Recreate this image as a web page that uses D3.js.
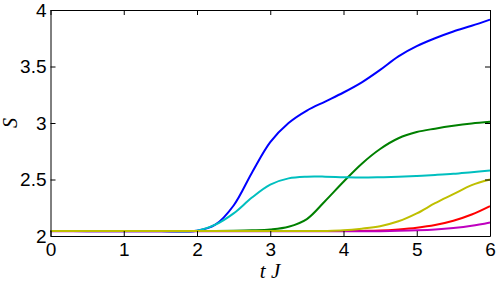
<!DOCTYPE html>
<html>
<head>
<meta charset="utf-8">
<script src="https://cdn.jsdelivr.net/npm/d3@7"></script>
<style>
  body { margin: 0; background: #fff; }
  .tick text { font-family: "Liberation Sans", Arial, sans-serif; font-size: 19px; fill: #000; }
  .domain, .tick line { stroke: #000; }
  .axis-title { font-family: "Liberation Serif", serif; font-style: italic; font-size: 21px; fill: #000; }
</style>
</head>
<body>
<div id="chart"></div>
<script>
/* CONSTANTS AND GLOBALS */
const width = 502,
  height = 288,
  margin = { top: 10, bottom: 52, left: 50.5, right: 12 };

// data
const time = [0, 0.5, 1, 1.5, 2, 2.25, 2.5, 2.75, 3, 3.25, 3.5, 3.75, 4, 4.25, 4.5, 4.75, 5, 5.25, 5.5, 5.75, 6];
const sBlue    = [2.044, 2.043, 2.042, 2.042, 2.047, 2.10, 2.27, 2.56, 2.83, 3.0, 3.11, 3.19, 3.27, 3.36, 3.47, 3.59, 3.68, 3.75, 3.81, 3.86, 3.915];
const sGreen   = [2.044, 2.044, 2.044, 2.044, 2.044, 2.044, 2.046, 2.05, 2.058, 2.082, 2.15, 2.31, 2.48, 2.64, 2.77, 2.865, 2.92, 2.95, 2.975, 2.995, 3.01];
const sRed     = [2.044, 2.044, 2.044, 2.044, 2.044, 2.044, 2.044, 2.044, 2.044, 2.044, 2.044, 2.044, 2.044, 2.045, 2.048, 2.058, 2.073, 2.097, 2.135, 2.19, 2.265];
const sCyan    = [2.044, 2.044, 2.044, 2.044, 2.047, 2.10, 2.20, 2.34, 2.455, 2.51, 2.525, 2.525, 2.52, 2.517, 2.52, 2.525, 2.532, 2.54, 2.55, 2.565, 2.58];
const sMagenta = [2.043, 2.043, 2.043, 2.043, 2.043, 2.043, 2.043, 2.043, 2.043, 2.043, 2.043, 2.043, 2.043, 2.043, 2.043, 2.046, 2.05, 2.057, 2.07, 2.09, 2.12];
const sYellow  = [2.044, 2.044, 2.044, 2.044, 2.044, 2.044, 2.044, 2.044, 2.044, 2.044, 2.044, 2.045, 2.05, 2.065, 2.087, 2.13, 2.20, 2.29, 2.37, 2.45, 2.50];

const xTicks = [0, 1, 2, 3, 4, 5, 6];
const yTicks = [2, 2.5, 3, 3.5, 4];

const series = [
  { color: "#0000ff", values: sBlue },
  { color: "#008000", values: sGreen },
  { color: "#ff0000", values: sRed },
  { color: "#00bfbf", values: sCyan },
  { color: "#bf00bf", values: sMagenta },
  { color: "#bfbf00", values: sYellow }
];

//SCALES
const xScale = d3.scaleLinear()
  .domain([0, 6])
  .range([margin.left, width - margin.right]);

const yScale = d3.scaleLinear()
  .domain([2, 4])
  .range([height - margin.bottom, margin.top]);

//SVG
const svg = d3.select("#chart")
  .append("svg")
  .attr("width", width)
  .attr("height", height);

// LINES
const line = d3.line()
  .x((d, i) => xScale(time[i]))
  .y(d => yScale(d))
  .curve(d3.curveCatmullRom.alpha(0.5));

svg.selectAll("path.series")
  .data(series)
  .join("path")
  .attr("class", "series")
  .attr("fill", "none")
  .attr("stroke", d => d.color)
  .attr("stroke-width", 2)
  .attr("d", d => line(d.values));

// AXES (matlab style box, ticks pointing in)
const fmt = d3.format("");
svg.append("g")
  .attr("transform", `translate(0, ${height - margin.bottom})`)
  .call(d3.axisBottom(xScale).tickValues(xTicks).tickFormat(fmt).tickSize(-5).tickSizeOuter(0).tickPadding(7));

svg.append("g")
  .attr("transform", `translate(0, ${margin.top})`)
  .call(d3.axisTop(xScale).tickValues(xTicks).tickFormat("").tickSize(-5).tickSizeOuter(0));

svg.append("g")
  .attr("transform", `translate(${margin.left}, 0)`)
  .call(d3.axisLeft(yScale).tickValues(yTicks).tickFormat(fmt).tickSize(-5).tickSizeOuter(0).tickPadding(4));

svg.append("g")
  .attr("transform", `translate(${width - margin.right}, 0)`)
  .call(d3.axisRight(yScale).tickValues(yTicks).tickFormat("").tickSize(-5).tickSizeOuter(0));

//add labels
svg.append("text")
  .attr("class", "axis-title")
  .attr("x", 270)
  .attr("y", 278)
  .attr("text-anchor", "middle")
  .text("t J");

svg.append("text")
  .attr("class", "axis-title")
  .attr("transform", `translate(17, 123) rotate(-90)`)
  .attr("text-anchor", "middle")
  .style("font-size", "20px")
  .text("S");
</script>
</body>
</html>
